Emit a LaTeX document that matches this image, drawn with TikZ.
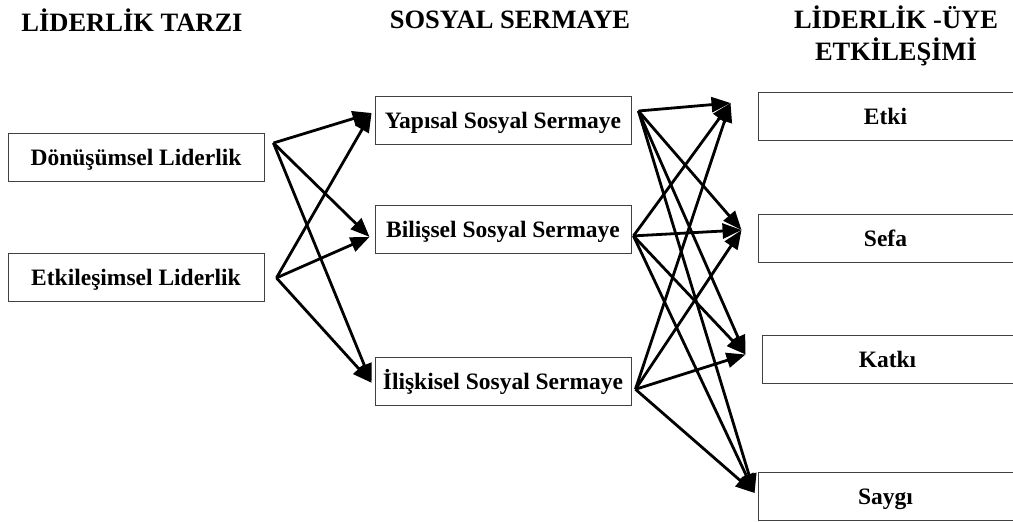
\documentclass[tikz,border=0pt]{standalone}
\usepackage{fontspec}
\setmainfont{Liberation Serif}
\usetikzlibrary{arrows.meta}
\usetikzlibrary{positioning}
\tikzstyle{block} = [draw=black!75, line width=0.9pt, rectangle,
minimum width=256pt, minimum height=48pt, inner sep=0pt,
text height=16pt, text depth=0pt, text=black,
font=\fontsize{23.5}{28}\selectfont\bfseries]
\tikzstyle{line} = [draw, line width=2.8pt, -{Triangle[length=19pt,width=15pt]}]
\tikzstyle{title} = [align=center, text=black,
font=\fontsize{26.5}{32}\selectfont\bfseries]

\begin{document}
\begin{tikzpicture}[x=1pt, y=-1pt]
	\useasboundingbox (0,0) rectangle (1013,522);
	%% Headings
	\node [title] (h1) at (132,20) {LİDERLİK TARZI};
	\node [title] (h2) at (510,20) {SOSYAL SERMAYE};
	\node [title] (h3) at (896,36) {LİDERLİK -ÜYE\\ETKİLEŞİMİ};
	%% Boxes
	\node [block] (dl) at (136,157) {Dönüşümsel Liderlik};
	\node [block, below=72pt of dl] (el) {Etkileşimsel Liderlik};
	\node [block] (yss) at (503,120) {Yapısal Sosyal Sermaye};
	\node [block, below=61pt of yss] (bss) {Bilişsel Sosyal Sermaye};
	\node [block, below=103pt of bss] (iss) {İlişkisel Sosyal Sermaye};
	\node [block, minimum width=255pt] (etki) at (885.5,116) {Etki};
	\node [block, minimum width=255pt] (sefa) at (885.5,238) {Sefa};
	\node [block, minimum width=251pt] (katki) at (887.5,359.5) {Katkı};
	\node [block, minimum width=255pt] (saygi) at (885.5,496) {Saygı};
	%% Ends of the flows
	\coordinate (dl-o) at ([shift={(9,-14)}]dl.east);
	\coordinate (el-o) at ([shift={(12,0)}]el.east);
	\coordinate (yss-i) at ([shift={(-3,-7)}]yss.west);
	\coordinate (bss-i) at ([shift={(-5,7)}]bss.west);
	\coordinate (iss-i) at ([shift={(-3,1)}]iss.west);
	\coordinate (yss-o) at ([shift={(7,-9)}]yss.east);
	\coordinate (bss-o) at ([shift={(2,6)}]bss.east);
	\coordinate (iss-o) at ([shift={(4,7.5)}]iss.east);
	\coordinate (etki-i) at ([shift={(-27,-13)}]etki.west);
	\coordinate (sefa-i) at ([shift={(-16,-8)}]sefa.west);
	\coordinate (katki-i) at ([shift={(-16,-5)}]katki.west);
	\coordinate (saygi-i) at ([shift={(-3,-3)}]saygi.west);
	%% Flows
	\path [line] (dl-o) -- (yss-i);
	\path [line] (dl-o) -- (bss-i);
	\path [line] (dl-o) -- (iss-i);
	\path [line] (el-o) -- (yss-i);
	\path [line] (el-o) -- (bss-i);
	\path [line] (el-o) -- (iss-i);
	\path [line] (yss-o) -- (etki-i);
	\path [line] (yss-o) -- (sefa-i);
	\path [line] (yss-o) -- (katki-i);
	\path [line] (yss-o) -- (saygi-i);
	\path [line] (bss-o) -- (etki-i);
	\path [line] (bss-o) -- (sefa-i);
	\path [line] (bss-o) -- (katki-i);
	\path [line] (bss-o) -- (saygi-i);
	\path [line] (iss-o) -- (etki-i);
	\path [line] (iss-o) -- (sefa-i);
	\path [line] (iss-o) -- (katki-i);
	\path [line] (iss-o) -- (saygi-i);
\end{tikzpicture}
\end{document}
